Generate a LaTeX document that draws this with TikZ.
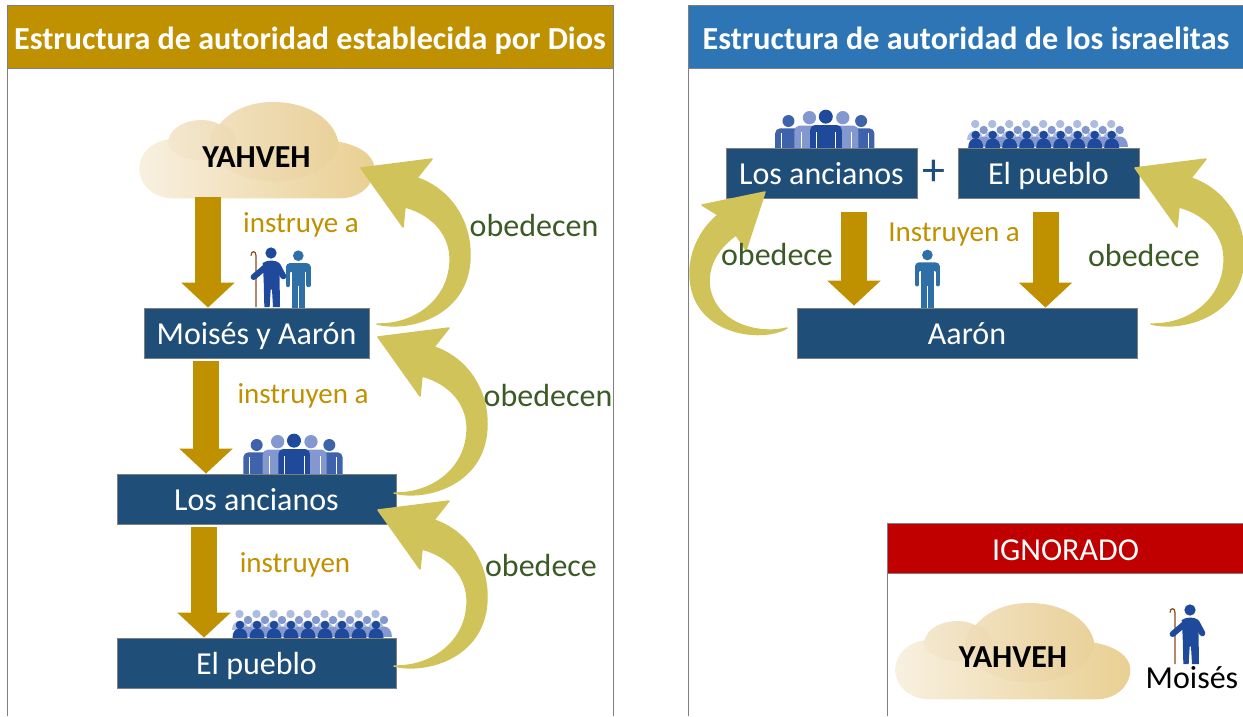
\documentclass[tikz,border=0pt]{standalone}
\usepackage{fontspec}
\setmainfont{Carlito}
\usetikzlibrary{arrows.meta,calc}
\definecolor{navy}{HTML}{1F4E79}
\definecolor{gold}{HTML}{BF9000}
\definecolor{olive}{HTML}{CFC35A}
\definecolor{leaf}{HTML}{3B5A26}
\definecolor{bluea}{HTML}{2E75B6}
\definecolor{redh}{HTML}{C00000}
\definecolor{edgeg}{HTML}{7F7F7F}
\definecolor{pdark}{HTML}{1F4A9B}
\definecolor{pmid}{HTML}{3F63AB}
\definecolor{plight}{HTML}{8298CF}
\definecolor{ppale}{HTML}{AEBDDF}
\definecolor{paaron}{HTML}{2E6FA8}
\definecolor{staff}{HTML}{8B4A20}
\definecolor{cloudl}{HTML}{F8F0E0}
\definecolor{cloudr}{HTML}{E9CF92}
\tikzset{
  x=1pt,y=-1pt,
  headbox/.style={draw=edgeg,line width=.8pt,inner sep=0pt,text=white,text height=25pt,text depth=0pt,font=\fontsize{32.1}{36}\selectfont\bfseries},
  navybox/.style={draw=edgeg,line width=.8pt,fill=navy,text=white,inner sep=0pt,minimum height=50pt,text height=23pt,text depth=0pt,font=\fontsize{32}{36}\selectfont},
  panelline/.style={draw=edgeg,line width=.8pt},
  goldlabel/.style={text=gold,font=\fontsize{29}{34}\selectfont,inner sep=0pt},
  greenlabel/.style={text=leaf,font=\fontsize{32}{36}\selectfont,inner sep=0pt},
  cloudtext/.style={text=black,inner sep=0pt,font=\fontsize{32}{36}\selectfont\bfseries,minimum width=235pt,minimum height=82pt},
  downblock/.style={draw=gold,line width=26pt,-{Triangle[length=25pt,width=52pt,fill=gold]}},
  curveblock/.style={fill=olive,draw=olive,line width=1.5pt,line join=round},
}
\newcommand\cloudicon[2]{%
\begin{scope}[shift={(#1,#2)},x=.3333pt,y=-.3333pt]
  \def\cloudpath{(130,325) .. controls (70,325) and (28,285) .. (28,235) .. controls (28,190) and (65,155) .. (115,148) .. controls (125,110) and (170,90) .. (215,90) .. controls (235,90) and (255,95) .. (268,103) .. controls (305,60) and (360,36) .. (430,36) .. controls (530,36) and (610,85) .. (625,155) .. controls (685,165) and (733,195) .. (733,235) .. controls (733,285) and (690,325) .. (630,325) -- cycle}
  \shade[left color=cloudl,right color=cloudr] \cloudpath;
  \begin{scope}
    \clip \cloudpath;
    \fill[cloudr!70!brown,opacity=.09] (432,155) ellipse [x radius=192,y radius=119];
    \fill[cloudr!70!brown,opacity=.09] (215,150) ellipse [x radius=103,y radius=60];
  \end{scope}
\end{scope}}
\newcommand\curvearrow[2]{%
\begin{scope}[shift={(#1,#2)}]
  \path[curveblock] (377,324) .. controls (410,332) and (470,315) .. (470,255) .. controls (470,215) and (445,187) .. (417,178) -- (432,159) -- (361,168) -- (403,227) -- (405,207) .. controls (435,215) and (452,238) .. (450,263) .. controls (448,300) and (415,325) .. (377,324) -- cycle;
\end{scope}}
\newcommand\manaaron[2]{%
\begin{scope}[shift={(#1,#2)},x=.3333pt,y=-.3333pt]
  \fill[paaron] (0,0) circle [radius=16];
  \fill[paaron,rounded corners=4pt] (-37,22) rectangle (37,50);
  \draw[paaron,line width=4.3pt,line cap=round] (-31,35) -- (-31,88);
  \draw[paaron,line width=4.3pt,line cap=round] (31,35) -- (31,88);
  \fill[paaron] (-20,30) rectangle (20,160);
  \draw[white,line width=.7pt] (-21,48) -- (-21,95);
  \draw[white,line width=.7pt] (21,48) -- (21,95);
  \draw[white,line width=.7pt] (0,92) -- (0,160);
\end{scope}}
\newcommand\manmoses[2]{%
\begin{scope}[shift={(#1,#2)},x=.3333pt,y=-.3333pt]
  \draw[staff,line width=1.2pt] (-45,162) -- (-45,8) .. controls (-45,-8) and (-60,-8) .. (-60,8);
  \fill[pdark] (0,0) circle [radius=17];
  \draw[pdark,line width=6pt,line cap=round] (20,38) -- (37,70);
  \draw[pdark,line width=6pt,line cap=round] (-12,38) -- (-52,72);
  \fill[pdark] (-25,30) .. controls (-10,20) and (12,20) .. (25,30) -- (27,162) -- (6,162) -- (3,110) -- (-1,110) -- (-4,162) -- (-20,162) -- (-22,80) -- cycle;
\end{scope}}
\newcommand\eldergroup[2]{%
\begin{scope}[shift={(#1,#2)},x=.3333pt,y=-.3333pt]
  \foreach \hx/\lx/\rx in {110/70/150,328/288/368}{
    \fill[pmid] (\hx,75) circle [radius=18];
    \fill[pmid,rounded corners=5pt] (\lx,190) -- (\lx,97) -- (\rx,97) -- (\rx,190) -- cycle;
  }
  \draw[white,line width=.6pt] (88,112) -- (88,162) (350,112) -- (350,162);
  \foreach \hx/\lx/\rx in {173/128/218,273/228/320}{
    \fill[plight] (\hx,65) circle [radius=20];
    \fill[plight,rounded corners=5pt] (\lx,190) -- (\lx,89) -- (\rx,89) -- (\rx,190) -- cycle;
  }
  \draw[white,line width=.6pt] (148,108) -- (148,162) (300,108) -- (300,162);
  \fill[pdark] (222,62) circle [radius=21];
  \fill[pdark,rounded corners=5pt] (175,190) -- (175,87) -- (270,87) -- (270,190) -- cycle;
  \draw[white,line width=.6pt] (192,108) -- (192,162) (252,108) -- (252,162);
\end{scope}}
\newcommand\crowdicon[2]{%
\begin{scope}[shift={(#1,#2)}]
  \foreach \i in {0,...,8}{
    \pgfmathsetmacro\bx{239.5+17*\i}
    \fill[ppale] (\bx,614) circle [radius=4.2];
    \fill[ppale] (\bx-8,630) .. controls (\bx-8,618) and (\bx+8,618) .. (\bx+8,630) -- cycle;
  }
  \foreach \i in {0,...,8}{
    \pgfmathsetmacro\bx{248+17*\i}
    \fill[plight] (\bx,620) circle [radius=4.2];
    \fill[plight] (\bx-8,637) .. controls (\bx-8,623) and (\bx+8,623) .. (\bx+8,637) -- cycle;
  }
  \foreach \i in {0,...,8}{
    \pgfmathsetmacro\bx{240+17*\i}
    \fill[pdark] (\bx,625) circle [radius=4.3];
    \fill[pdark] (\bx-7.5,638) .. controls (\bx-7.5,632) and (\bx-5,628.5) .. (\bx,628.5) .. controls (\bx+5,628.5) and (\bx+7.5,632) .. (\bx+7.5,638) -- cycle;
  }
\end{scope}}
\begin{document}
\begin{tikzpicture}
\useasboundingbox (0,0) rectangle (1243,716);
% panels
\coordinate (pa) at (7,68);
\coordinate (pb) at (613,68);
\coordinate (pc) at (688,68);
\coordinate (pd) at (887,573);
\draw[panelline] (pa) -- (7,716);
\draw[panelline] (pb) -- (613,716);
\draw[panelline] (pc) -- (688,716);
\draw[panelline] (pd) -- (887,716);
% icons
\cloudicon{130}{90}
\cloudicon{886}{591}
\manmoses{271}{253}
\manaaron{298.3}{255.7}
\eldergroup{220}{420}
\eldergroup{751.8}{96}
\crowdicon{0}{0}
\crowdicon{735.7}{-490}
\manaaron{927.4}{255}
\manmoses{1190}{610}
% headers
\node[headbox,fill=gold,minimum width=606pt,minimum height=63pt] (h1) at (310,36.5) {Estructura de autoridad establecida por Dios};
\node[headbox,fill=bluea,minimum width=556pt,minimum height=63pt] (h2) at (966,36.5) {Estructura de autoridad de los israelitas};
\node[navybox,fill=redh,draw=edgeg,minimum width=357pt] (h3) at (1065.5,548.5) {IGNORADO};
% cloud labels
\node[cloudtext] (y1) at (256.5,157) {YAHVEH};
\node[cloudtext] (y2) at (1013,657) {YAHVEH};
% boxes
\node[navybox,minimum width=225pt] (mo) at (256.5,333) {Moisés y Aarón};
\node[navybox,minimum width=279pt] (an) at (256.5,499) {Los ancianos};
\node[navybox,minimum width=279pt] (pu) at (256.5,663) {El pueblo};
\node[navybox,minimum width=191pt] (anr) at (821.5,173) {Los ancianos};
\node[navybox,minimum width=181pt] (pur) at (1048.5,173) {El pueblo};
\node[navybox,minimum width=340pt] (aa) at (967,333) {Aarón};
% curved arrows
\curvearrow{0}{0}
\curvearrow{17}{169}
\curvearrow{17}{342}
\curvearrow{774}{0}
\path[curveblock] (787,328) .. controls (762,343) and (690,335) .. (690,273) .. controls (690,250) and (702,228) .. (718,215) -- (702,205) -- (765,192) -- (746,250) -- (736,235) .. controls (715,250) and (706,270) .. (710,290) .. controls (718,325) and (760,335) .. (787,328) -- cycle;
% straight block arrows
\draw[downblock] ([shift={(-48.5pt,1pt)}]y1.south) -- ([xshift=-48.5pt]mo.north);
\draw[downblock] ([shift={(-50.5pt,-3pt)}]mo.south) -- ([xshift=-50.5pt]an.north);
\draw[downblock] ([shift={(-52.5pt,-3pt)}]an.south) -- ([xshift=-52.5pt]pu.north);
\draw[downblock] ([shift={(32.5pt,-14pt)}]anr.south) -- ([shift={(-113pt,2pt)}]aa.north);
\draw[downblock] ([shift={(-3pt,-14pt)}]pur.south) -- ([xshift=78.5pt]aa.north);
% labels
\node[goldlabel] (t1) at (301,225) {instruye a};
\node[goldlabel] (t2) at (303,396) {instruyen a};
\node[goldlabel] (t3) at (295,565) {instruyen};
\node[goldlabel] (t4) at (954,235) {Instruyen a};
\node[greenlabel] (o1) at (534,225) {obedecen};
\node[greenlabel] (o2) at (548,395) {obedecen};
\node[greenlabel] (o3) at (541,565) {obedece};
\node[greenlabel] (o4) at (777,254) {obedece};
\node[greenlabel] (o5) at (1144,255) {obedece};
\node[text=navy,inner sep=0pt,font=\fontsize{46}{48}\selectfont] (plus) at (934,173) {+};
\node[inner sep=0pt,text=black,font=\fontsize{32}{36}\selectfont] (mt) at (1192,678) {Moisés};
\end{tikzpicture}
\end{document}
